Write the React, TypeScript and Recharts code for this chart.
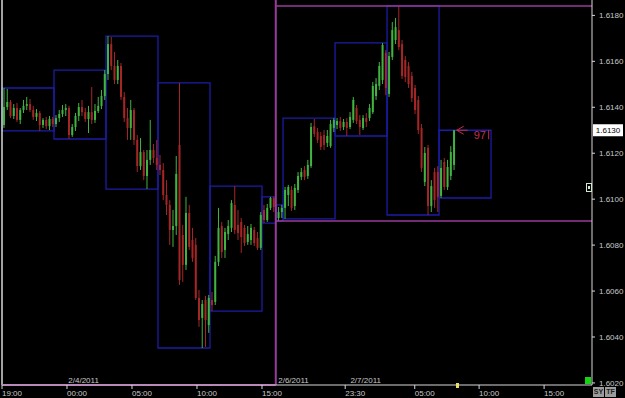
import React from "react";
import {
  Bar,
  ComposedChart,
  ReferenceArea,
  ReferenceDot,
  ReferenceLine,
  XAxis,
  YAxis,
} from "recharts";

// 15-minute bars, x is "chart hours" since 19:00 on 2/3 (weekend removed)
const SLOT = 0.25;
const FEB6_START = 21.12;

const feb4Open = [
  1.61323, 1.61401, 1.61423, 1.61362, 1.61397, 1.61345, 1.61388, 1.61406, 1.61414, 1.61388, 1.61358, 1.61375, 1.61323, 1.61345, 1.61318, 1.61349,
  1.61327, 1.61353, 1.61371, 1.61388, 1.61397, 1.61279, 1.61314, 1.61362, 1.61401, 1.61379, 1.61349, 1.61379, 1.61345, 1.61384, 1.61406, 1.61449,
  1.61545, 1.61675, 1.6158, 1.61519, 1.6158, 1.61445, 1.61353, 1.6131, 1.61388, 1.61258, 1.61144, 1.61205, 1.61101, 1.61171, 1.61214, 1.61179,
  1.61149, 1.61127, 1.61018, 1.60975, 1.60866, 1.60883, 1.61236, 1.60844, 1.60714, 1.6094, 1.60822, 1.60801, 1.6057, 1.60483, 1.60561, 1.60452,
  1.60561, 1.60553, 1.60727, 1.60883, 1.60779, 1.60848, 1.60875, 1.60975, 1.60888, 1.60901, 1.60875, 1.60814, 1.60822, 1.60866, 1.60831, 1.60788,
  1.60953, 1.60909, 1.60962, 1.61005,
];
const feb4High = [
  1.61484, 1.6148, 1.61432, 1.61414, 1.61419, 1.61397, 1.61432, 1.61445, 1.61436, 1.61406, 1.61392, 1.61384, 1.61353, 1.61358, 1.61362, 1.61358,
  1.61366, 1.61388, 1.6141, 1.61414, 1.61406, 1.61327, 1.61375, 1.61419, 1.61432, 1.61397, 1.61406, 1.61488, 1.61414, 1.61445, 1.61475, 1.61562,
  1.6171, 1.61706, 1.61641, 1.61606, 1.61593, 1.61466, 1.61397, 1.61432, 1.61397, 1.61279, 1.61266, 1.61214, 1.61214, 1.61345, 1.6124, 1.61258,
  1.61192, 1.61157, 1.61083, 1.60996, 1.60953, 1.61188, 1.61506, 1.60888, 1.6101, 1.60975, 1.60875, 1.60831, 1.60605, 1.60561, 1.60579, 1.60583,
  1.60596, 1.60753, 1.60962, 1.60901, 1.60875, 1.60909, 1.60996, 1.61057, 1.60953, 1.60918, 1.60888, 1.60883, 1.60892, 1.60879, 1.60857, 1.60944,
  1.60975, 1.60979, 1.6101, 1.6101,
];
const feb4Low = [
  1.6131, 1.61388, 1.61353, 1.61349, 1.61336, 1.61327, 1.61375, 1.61388, 1.61379, 1.61345, 1.6134, 1.61297, 1.6131, 1.61305, 1.61301, 1.61314,
  1.61314, 1.61336, 1.61358, 1.61362, 1.61262, 1.61271, 1.61297, 1.6134, 1.61362, 1.61336, 1.61288, 1.61327, 1.61332, 1.61375, 1.61392, 1.61432,
  1.61519, 1.61562, 1.61501, 1.61501, 1.61432, 1.61336, 1.61258, 1.61258, 1.61236, 1.61118, 1.61127, 1.61083, 1.61044, 1.61149, 1.61157, 1.61127,
  1.61105, 1.60996, 1.60931, 1.60801, 1.60792, 1.60844, 1.60627, 1.6064, 1.60692, 1.60779, 1.60727, 1.60561, 1.60444, 1.60352, 1.60357, 1.60418,
  1.60513, 1.60539, 1.60709, 1.60744, 1.60744, 1.60822, 1.60857, 1.60848, 1.60822, 1.60766, 1.60796, 1.60801, 1.60801, 1.60796, 1.60779, 1.60779,
  1.60896, 1.60901, 1.60953, 1.60944,
];
const feb4Close = [
  1.61401, 1.61423, 1.61362, 1.61397, 1.61345, 1.61388, 1.61406, 1.61414, 1.61388, 1.61358, 1.61375, 1.61323, 1.61345, 1.61318, 1.61349, 1.61327,
  1.61353, 1.61371, 1.61388, 1.61397, 1.61279, 1.61314, 1.61362, 1.61401, 1.61379, 1.61349, 1.61379, 1.61345, 1.61384, 1.61406, 1.61449, 1.61545,
  1.61675, 1.6158, 1.61519, 1.6158, 1.61445, 1.61353, 1.6131, 1.61388, 1.61258, 1.61144, 1.61205, 1.61101, 1.61171, 1.61214, 1.61179, 1.61149,
  1.61127, 1.61018, 1.60975, 1.60866, 1.60883, 1.6111, 1.60648, 1.60714, 1.6094, 1.60792, 1.60744, 1.6057, 1.60474, 1.60544, 1.60474, 1.6057,
  1.60539, 1.60727, 1.60875, 1.6077, 1.60857, 1.60883, 1.60983, 1.60866, 1.60853, 1.60835, 1.60809, 1.60848, 1.60875, 1.60809, 1.60788, 1.60931,
  1.60909, 1.60962, 1.61005, 1.60966,
];

const feb6Open = [
  1.60918, 1.60944, 1.60962, 1.61018, 1.6104, 1.6097, 1.6104, 1.61097, 1.61127, 1.61101, 1.61144, 1.61318, 1.61292, 1.61275, 1.61279, 1.61245,
  1.61231, 1.6131, 1.61323, 1.6134, 1.61314, 1.61336, 1.61314, 1.61345, 1.61397, 1.61345, 1.6131, 1.61353, 1.61353, 1.61379, 1.61449, 1.61493,
  1.61519, 1.61636, 1.61458, 1.61619, 1.61693, 1.61736, 1.61675, 1.61606, 1.6158, 1.61536, 1.61484, 1.61432, 1.6131, 1.61075, 1.61223, 1.6097,
  1.61118, 1.61118, 1.61014, 1.61162, 1.61053, 1.61101, 1.61149,
];
const feb6High = [
  1.60966, 1.60975, 1.61053, 1.61062, 1.61057, 1.61066, 1.61118, 1.61136, 1.61144, 1.61171, 1.61332, 1.61349, 1.6131, 1.61292, 1.61301, 1.61301,
  1.61345, 1.61353, 1.61353, 1.61358, 1.61349, 1.61353, 1.61379, 1.61445, 1.6141, 1.61366, 1.61366, 1.61375, 1.61414, 1.6151, 1.61527, 1.61597,
  1.6168, 1.61649, 1.61641, 1.61771, 1.61789, 1.61841, 1.61693, 1.61623, 1.61597, 1.61554, 1.61497, 1.61449, 1.61327, 1.61227, 1.61236, 1.61083,
  1.61136, 1.61144, 1.61171, 1.61179, 1.61171, 1.61231, 1.613,
];
const feb6Low = [
  1.60905, 1.60918, 1.60914, 1.6097, 1.60949, 1.60953, 1.61027, 1.61083, 1.61083, 1.61088, 1.61136, 1.61271, 1.61245, 1.61214, 1.61214, 1.61227,
  1.61223, 1.61292, 1.61305, 1.61297, 1.61301, 1.61275, 1.61305, 1.61332, 1.61327, 1.61279, 1.61301, 1.61314, 1.6134, 1.61371, 1.61432, 1.61475,
  1.61501, 1.61453, 1.61445, 1.61606, 1.61675, 1.61649, 1.61523, 1.6151, 1.61484, 1.61423, 1.61371, 1.61284, 1.61118, 1.61057, 1.60931, 1.60944,
  1.60962, 1.60944, 1.61005, 1.6104, 1.6104, 1.61083, 1.61127,
];
const feb6Close = [
  1.60944, 1.60962, 1.6104, 1.61053, 1.60962, 1.61049, 1.61101, 1.61118, 1.61097, 1.61149, 1.61314, 1.61284, 1.61258, 1.61227, 1.61236, 1.61275,
  1.61327, 1.61345, 1.6134, 1.6131, 1.61336, 1.6131, 1.61358, 1.61432, 1.6134, 1.61314, 1.61353, 1.61336, 1.61397, 1.61493, 1.61501, 1.6158,
  1.61671, 1.61484, 1.61623, 1.61736, 1.61749, 1.61662, 1.61536, 1.61532, 1.61501, 1.6144, 1.61388, 1.61301, 1.61136, 1.61201, 1.6097, 1.61057,
  1.60996, 1.6101, 1.61136, 1.61053, 1.6114, 1.61205, 1.613,
];

// 4-hour range boxes (chart hours)
const boxPeriods = [
  [0, 4], [4, 8], [8, 12], [12, 16], [16, 20], [20, 21.05],
  [21.12, 21.62], [21.62, 25.62], [25.62, 29.62], [29.62, 33.62], [33.62, 37.62],
];

const timeTicks = [0, 5, 10, 15, 20, 26.4, 31.75, 36.7, 41.7];
const timeLabels = ["19:00", "00:00", "05:00", "10:00", "15:00", "23:30", "05:00", "10:00", "15:00"];
const priceTicks = [1.602, 1.604, 1.606, 1.608, 1.61, 1.612, 1.614, 1.616, 1.618];
const dateMarks = [
  { at: 5.1, label: "2/4/2011" },
  { at: 21.25, label: "2/6/2011" },
  { at: 26.8, label: "2/7/2011" },
];
const rangeNote = "97";

const X_DOMAIN: [number, number] = [0, 45.385];
const Y_DOMAIN: [number, number] = [1.60191, 1.61867];
const SESSION_BREAK = 21.06;

const GREEN = "#40b440";
const RED = "#a62626";
const BOX = "#1c1ca6";
const MAGENTA = "#9a3a9a";
const AXIS = "#d8d8d8";
const LABEL = "#c8c8c8";
const FONT = "Liberation Sans, Arial, sans-serif";

const candles = [
  ...feb4Open.map((open, i) => ({
    t: i * SLOT + SLOT / 2,
    open,
    high: feb4High[i],
    low: feb4Low[i],
    close: feb4Close[i],
  })),
  ...feb6Open.map((open, i) => ({
    t: FEB6_START + i * SLOT + SLOT / 2,
    open,
    high: feb6High[i],
    low: feb6Low[i],
    close: feb6Close[i],
  })),
].map((c) => ({ ...c, range: [c.low, c.high] }));

const boxes = boxPeriods.map(([from, to]) => {
  const inside = candles.filter((c) => c.t >= from && c.t < to);
  return {
    from,
    to,
    high: Math.max(...inside.map((c) => c.high)),
    low: Math.min(...inside.map((c) => c.low)),
  };
});

const sessionTop = Math.max(...feb6High);
const sessionBottom = Math.min(...feb6Low);
const last = candles[candles.length - 1];

function Candle(props: any) {
  const { x, y, width, height, payload } = props;
  if (x == null || y == null || !payload) return null;
  const { open, close, high, low } = payload;
  const color = close >= open ? GREEN : RED;
  const perUnit = high > low ? height / (high - low) : 0;
  const yOpen = y + (high - open) * perUnit;
  const yClose = y + (high - close) * perUnit;
  const cx = x + width / 2;
  return (
    <g>
      <line x1={cx} x2={cx} y1={y} y2={y + height} stroke={color} strokeWidth={1} />
      <rect
        x={x}
        y={Math.min(yOpen, yClose)}
        width={width}
        height={Math.max(1, Math.abs(yClose - yOpen))}
        fill={color}
      />
    </g>
  );
}

function TimeTick({ x, y, payload }: any) {
  const i = timeTicks.indexOf(payload.value);
  return (
    <text x={x} y={y + 5} fill={LABEL} fontSize={8} fontFamily={FONT} textAnchor="start">
      {timeLabels[i]}
    </text>
  );
}

function PriceTag(props: any) {
  const vb = props.viewBox;
  if (!vb) return null;
  const left = vb.x + vb.width + 1;
  return (
    <g>
      <rect x={left} y={vb.y - 6} width={30} height={12} fill="#ffffff" />
      <text x={left + 15} y={vb.y + 3} fill="#000" fontSize={8} fontFamily={FONT} textAnchor="middle">
        {last.close.toFixed(4)}
      </text>
    </g>
  );
}

function RangeArrow({ cx, cy }: any) {
  if (cx == null || cy == null) return null;
  const c = "#c03048";
  return (
    <g>
      <polyline points={`${cx + 10},${cy - 4} ${cx + 3},${cy} ${cx + 10},${cy + 4}`} fill="none" stroke={c} strokeWidth={1} />
      <line x1={cx + 3} x2={cx + 14} y1={cy} y2={cy} stroke={c} strokeWidth={1} />
      <text x={cx + 20} y={cy + 9} fill={c} fontSize={11} fontFamily={FONT}>
        {rangeNote}
      </text>
      <line x1={cx + 35} x2={cx + 35} y1={cy} y2={cy + 9} stroke={c} strokeWidth={1} />
    </g>
  );
}

function DateLabel(text: string) {
  return (props: any) => {
    const vb = props.viewBox;
    if (!vb) return null;
    return (
      <text x={vb.x} y={vb.y + vb.height - 2} fill={LABEL} fontSize={8} fontFamily={FONT}>
        {text}
      </text>
    );
  };
}

export default function App() {
  return (
    <div style={{ position: "absolute", left: 0, top: 0, width: 625, height: 398, background: "#000", overflow: "hidden" }}>
      <ComposedChart width={625} height={398} data={candles} margin={{ top: 0, right: 0, bottom: 0, left: 2 }}>
        <XAxis
          dataKey="t"
          type="number"
          domain={X_DOMAIN}
          allowDataOverflow
          ticks={timeTicks}
          interval={0}
          tick={<TimeTick />}
          tickSize={4}
          tickLine={{ stroke: AXIS }}
          axisLine={{ stroke: AXIS }}
          height={13}
        />
        <YAxis
          orientation="right"
          domain={Y_DOMAIN}
          allowDataOverflow
          ticks={priceTicks}
          interval={0}
          tickFormatter={(v: number) => v.toFixed(4)}
          tick={{ fill: LABEL, fontSize: 8, fontFamily: FONT }}
          tickSize={3}
          tickMargin={4}
          tickLine={{ stroke: AXIS }}
          axisLine={{ stroke: AXIS }}
          width={33}
        />

        {boxes.map((b, i) => (
          <ReferenceArea
            key={`box-${i}`}
            x1={b.from}
            x2={b.to}
            y1={b.low}
            y2={b.high}
            fill="none"
            fillOpacity={0}
            stroke={BOX}
            strokeWidth={1.3}
            ifOverflow="visible"
          />
        ))}

        <ReferenceLine x={0} stroke={AXIS} strokeWidth={1.5} />
        <ReferenceLine x={SESSION_BREAK} stroke={MAGENTA} strokeWidth={2} />
        <ReferenceLine
          segment={[{ x: SESSION_BREAK, y: sessionTop }, { x: X_DOMAIN[1], y: sessionTop }]}
          stroke={MAGENTA}
          strokeWidth={1.5}
        />
        <ReferenceLine
          segment={[{ x: SESSION_BREAK, y: sessionBottom }, { x: X_DOMAIN[1], y: sessionBottom }]}
          stroke={MAGENTA}
          strokeWidth={1.5}
        />
        <ReferenceLine
          segment={[{ x: 0, y: Y_DOMAIN[0] }, { x: SESSION_BREAK, y: Y_DOMAIN[0] }]}
          stroke={MAGENTA}
          strokeWidth={2}
          ifOverflow="visible"
        />

        {dateMarks.map((d) => (
          <ReferenceLine key={d.label} x={d.at} stroke="none" label={DateLabel(d.label)} />
        ))}

        <Bar dataKey="range" barSize={2} shape={<Candle />} isAnimationActive={false} />

        <ReferenceLine y={last.close} stroke="none" ifOverflow="visible" label={PriceTag} />
        <ReferenceDot x={last.t} y={last.close} r={0} shape={<RangeArrow />} ifOverflow="visible" />
      </ComposedChart>

      <div style={{ position: "absolute", left: 586, top: 183, width: 4, height: 7, border: "1px solid #cfe8cf" }}>
        <div style={{ margin: "2px 1px", width: 2, height: 3, background: "#cfe8cf" }} />
      </div>
      <div style={{ position: "absolute", left: 585, top: 377, width: 6, height: 7, background: "#14d414" }} />
      <div style={{ position: "absolute", left: 456, top: 383, width: 3, height: 5, background: "#e8e060" }} />
      <div style={{ position: "absolute", left: 593, top: 387, width: 11, height: 10, background: "#9c9c9c", color: "#202020", font: `bold 7px ${FONT}`, lineHeight: "10px", textAlign: "center" }}>SY</div>
      <div style={{ position: "absolute", left: 605, top: 387, width: 11, height: 10, background: "#9c9c9c", color: "#202020", font: `bold 7px ${FONT}`, lineHeight: "10px", textAlign: "center" }}>TF</div>
    </div>
  );
}
